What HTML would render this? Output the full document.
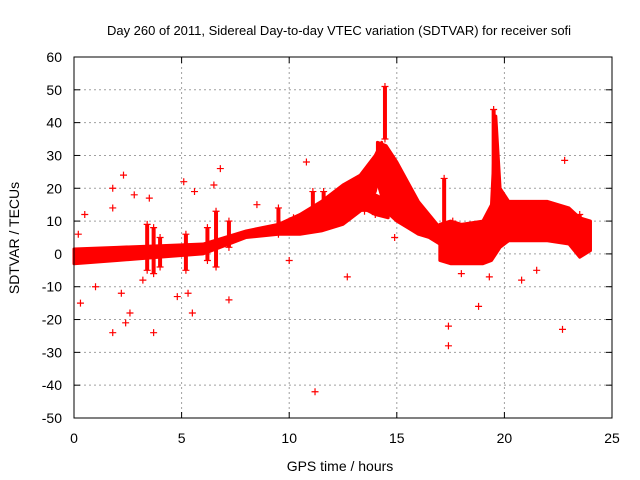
<!DOCTYPE html>
<html><head><meta charset="utf-8"><style>
body{margin:0;background:#fff}
svg{display:block;font-family:"Liberation Sans",sans-serif}
</style></head><body>
<svg id="chart" width="640" height="480" viewBox="0 0 640 480" xmlns="http://www.w3.org/2000/svg">
<rect width="640" height="480" fill="#fff"/>
<text x="339" y="35" font-size="13" text-anchor="middle">Day 260 of 2011, Sidereal Day-to-day VTEC variation (SDTVAR) for receiver sofi</text>
<text transform="translate(19,238) rotate(-90)" font-size="14" text-anchor="middle">SDTVAR / TECUs</text>
<text x="340" y="471" font-size="14" text-anchor="middle">GPS time / hours</text>
<g id="grid"></g>
<g id="ticks"></g>
<g id="marks"></g>
<rect x="74" y="57" width="538" height="361" fill="none" stroke="#000" stroke-width="1"/>
</svg>
<script>
const xTicks=[0,5,10,15,20,25];
const yTicks=[60,50,40,30,20,10,0,-10,-20,-30,-40,-50];
// bands: time, upper, lower
const bandAT=[0,2,4,6,8,9.5,10.5,11.5,12.5,13.3,14.0,14.3];
const bandAU=[1.5,2,2.5,3,7,9,12,16,21,24,30,34];
const bandAL=[-3,-2,-1,0,5,6,6,7,9,13,19,28];
const bandBT=[14.1,14.5,15,15.5,16,16.5,17,17.5];
const bandBU=[34,33,28,22,16,12,8,6];
const bandBL=[22,13,10,8,6,5,3,0];
const bandCT=[13.4,14,14.6];
const bandCU=[19,18,16];
const bandCL=[14,12,11];
const bandDT=[17,17.5,18,19,19.4,19.6,19.8,20.2,21,22,23,23.5,24];
const bandDU=[9,10,9,10,15,42,20,16,16,16,14,11,10];
const bandDL=[-2,-3,-3,-3,-2,0,2,4,4,4,3,-1,1];
// spikes: time, low, high
const spikeT=[3.4,3.7,4.0,5.2,6.2,6.6,7.2,9.5,10.2,11.1,11.6,13.5,14.45,17.2,17.6,19.5,22.8,23.5];
const spikeLo=[-5,-6,-4,-5,-2,-4,2,6,8,12,11,13,35,5,1,8,6,2];
const spikeHi=[9,8,5,6,8,13,10,14,11,19,19,19,51,23,10,44,10,12];
// outliers
const outT=[0.5,0.3,0.2,1.8,1.8,2.3,2.4,1.8,2.8,3.2,3.7,3.5,5.1,5.6,5.5,5.3,4.8,6.8,7.2,6.5,11.2,10.8,12.7,14.9,17.4,17.4,18,18.8,22.8,22.7,20.8,19.3,21.5,14,8.5,10,1,2.2,2.6];
const outV=[12,-15,6,-24,20,24,-21,14,18,-8,-24,17,22,19,-18,-12,-13,26,-14,21,-42,28,-7,5,-28,-22,-6,-16,28.5,-23,-8,-7,-5,12,15,-2,-10,-12,-18];

const NS="http://www.w3.org/2000/svg";
const X=t=>74+t*538/25;
const Y=v=>253.9-v*361/110;
function mk(tag,attrs,parent){const e=document.createElementNS(NS,tag);for(const k in attrs)e.setAttribute(k,attrs[k]);parent.appendChild(e);return e;}
const grid=document.getElementById('grid'),ticks=document.getElementById('ticks'),marks=document.getElementById('marks');
xTicks.forEach(t=>{
  if(t>0&&t<25){const g=mk('line',{x1:X(t),x2:X(t),y1:57,y2:418,stroke:'#a0a0a0','stroke-dasharray':'2,3'},grid);
  
  }
  mk('line',{x1:X(t),x2:X(t),y1:418,y2:412,stroke:'#000'},ticks);
  mk('line',{x1:X(t),x2:X(t),y1:57,y2:63,stroke:'#000'},ticks);
  const l=mk('text',{x:X(t),y:443,'font-size':14,'text-anchor':'middle'},ticks);l.textContent=t;
  
  
});
yTicks.forEach(v=>{
  if(v<60&&v>-50){const g=mk('line',{x1:74,x2:612,y1:Y(v),y2:Y(v),stroke:'#a0a0a0','stroke-dasharray':'2,3'},grid);
  
  }
  mk('line',{x1:74,x2:80,y1:Y(v),y2:Y(v),stroke:'#000'},ticks);
  mk('line',{x1:606,x2:612,y1:Y(v),y2:Y(v),stroke:'#000'},ticks);
  const l=mk('text',{x:62,y:Y(v)+5,'font-size':14,'text-anchor':'end'},ticks);l.textContent=v;
  
  
});
function band(T,U,L,name){
  let p=T.map((t,i)=>X(t)+','+Y(U[i]));
  for(let i=T.length-1;i>=0;i--)p.push(X(T[i])+','+Y(L[i]));
  const e=mk('polygon',{points:p.join(' '),fill:'#f00',stroke:'#f00','stroke-width':3,'stroke-linejoin':'round'},marks);
  
  
}
band(bandAT,bandAU,bandAL,'band-rising');
band(bandBT,bandBU,bandBL,'band-descending');
band(bandCT,bandCU,bandCL,'band-lower-strand');
band(bandDT,bandDU,bandDL,'band-evening');
function plus(t,v,name){
  const x=X(t),y=Y(v);
  const e=mk('path',{d:`M${x-3.5},${y}h7M${x},${y-3.5}v7`,stroke:'#f00','stroke-width':1.2,fill:'none'},marks);
  
  
}
spikeT.forEach((t,i)=>{
  const e=mk('line',{x1:X(t),x2:X(t),y1:Y(spikeLo[i]),y2:Y(spikeHi[i]),stroke:'#f00','stroke-width':4},marks);
  
  
  plus(t,spikeHi[i],'spike-top-point');
  plus(t,spikeLo[i],'spike-bottom-point');
});
outT.forEach((t,i)=>plus(t,outV[i],'outlier-point'));
</script>
</body></html>
